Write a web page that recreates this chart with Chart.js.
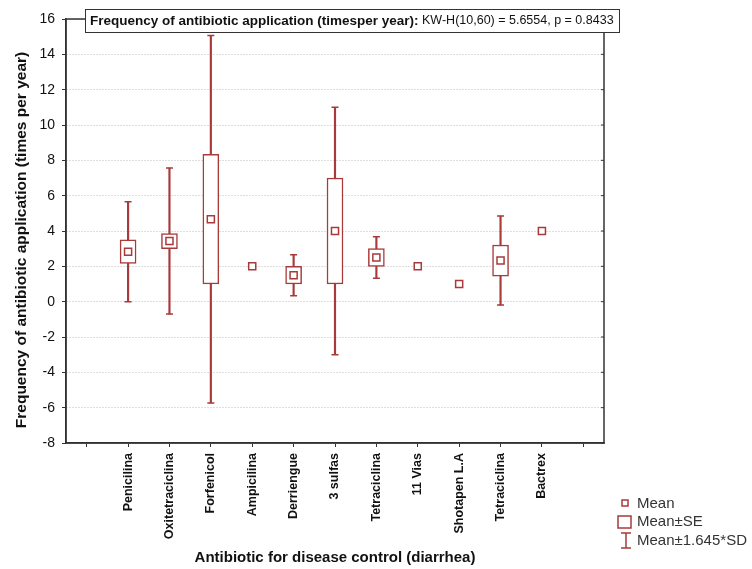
<!DOCTYPE html>
<html>
<head>
<meta charset="utf-8">
<script src="https://cdn.jsdelivr.net/npm/chart.js@4.4.1/dist/chart.umd.min.js"></script>
<style>
  body { margin: 0; background: #fff; }
  #wrap { width: 752px; height: 569px; }
</style>
</head>
<body>
<div id="wrap"><canvas id="myChart" width="752" height="569"></canvas></div>
<script>
// categories (empty slot at each end, like the original plot)
var drugs = ["Penicilina", "Oxitetraciclina", "Forfenicol", "Ampicilina", "Derriengue",
  "3 sulfas", "Tetraciclina", "11 Vias", "Shotapen L.A", "Tetraciclina", "Bactrex"];
// mean, standard error and 1.645*SD
var means = [2.83, 3.43, 4.67, 2.0, 1.5, 4.0, 2.5, 2.0, 1.0, 2.33, 4.0];
var se = [0.67, 0.43, 3.67, null, 0.5, 3.0, 0.5, null, null, 0.88, null];
var sd165 = [2.83, 4.13, 10.4, null, 1.16, 7.0, 1.17, null, null, 2.52, null];
var yTicks = [-8, -6, -4, -2, 0, 2, 4, 6, 8, 10, 12, 14, 16];

var red = "#a83a3a";
var fontFam = "'Liberation Sans', Arial, sans-serif";

var labels = [""].concat(drugs, [""]);
function pad(arr) { return [null].concat(arr, [null]); }

var seBox = pad(means.map(function (m, i) {
  return se[i] == null ? null : [m - se[i], m + se[i]];
}));
var whisker = pad(means.map(function (m, i) {
  return sd165[i] == null ? null : [m - sd165[i], m + sd165[i]];
}));
var capHi = pad(means.map(function (m, i) { return sd165[i] == null ? null : m + sd165[i]; }));
var capLo = pad(means.map(function (m, i) { return sd165[i] == null ? null : m - sd165[i]; }));
var meanPts = pad(means);

var decor = {
  id: "decor",
  afterDraw: function (chart) {
    var c = chart.ctx, a = chart.chartArea;
    c.save();
    // frame around plot
    c.strokeStyle = "#333";
    c.lineWidth = 1.5;
    c.strokeRect(a.left, a.top, a.right - a.left, a.bottom - a.top);
    // small inner ticks on right side
    c.lineWidth = 1;
    yTicks.forEach(function (v) {
      var py = chart.scales.y.getPixelForValue(v);
      c.beginPath(); c.moveTo(a.right - 3, py); c.lineTo(a.right, py); c.stroke();
    });

    // header box
    c.fillStyle = "#fff";
    c.fillRect(85, 9, 534, 23);
    c.strokeStyle = "#333";
    c.lineWidth = 1;
    c.strokeRect(85.5, 9.5, 534, 23);
    c.fillStyle = "#111";
    c.textBaseline = "middle";
    c.textAlign = "left";
    c.font = "bold 13.5px " + fontFam;
    var t1 = "Frequency of antibiotic application (timesper year):";
    c.fillText(t1, 90, 21);
    var w1 = c.measureText(t1).width;
    c.font = "12.5px " + fontFam;
    c.fillText(" KW-H(10,60) = 5.6554, p = 0.8433", 90 + w1, 21);

    // y axis title, drawn a little below centre as in the original
    c.save();
    c.translate(22, 240);
    c.rotate(-Math.PI / 2);
    c.textAlign = "center";
    c.font = "bold 15.5px " + fontFam;
    c.fillText("Frequency of antibiotic application (times per year)", 0, 0);
    c.restore();

    // legend
    c.strokeStyle = red;
    c.lineWidth = 1.5;
    c.strokeRect(622, 500, 6, 6);
    c.strokeRect(618, 516, 13, 12);
    c.beginPath();
    c.moveTo(626, 533); c.lineTo(626, 548);
    c.moveTo(621, 533); c.lineTo(631, 533);
    c.moveTo(621, 548); c.lineTo(631, 548);
    c.stroke();
    c.fillStyle = "#333";
    c.font = "15px " + fontFam;
    c.fillText("Mean", 637, 504);
    c.fillText("Mean\u00b1SE", 637, 522);
    c.fillText("Mean\u00b11.645*SD", 637, 541);
    c.restore();
  }
};

var ctx = document.getElementById("myChart").getContext("2d");
var myChart = new Chart(ctx, {
  type: "bar",
  data: {
    labels: labels,
    datasets: [
      {
        type: "line",
        label: "Mean",
        data: meanPts,
        showLine: false,
        pointStyle: "rect",
        pointRadius: 5,
        pointBackgroundColor: "#fff",
        pointBorderColor: red,
        pointBorderWidth: 1.5,
        order: 0
      },
      {
        label: "Mean\u00b1SE",
        data: seBox,
        backgroundColor: "#fff",
        borderColor: red,
        borderWidth: 1.5,
        borderSkipped: false,
        barThickness: 16,
        grouped: false,
        order: 1
      },
      {
        type: "line",
        label: "capHi",
        data: capHi,
        showLine: false,
        pointStyle: "line",
        pointRadius: 3.5,
        pointBorderColor: red,
        pointBorderWidth: 1.5,
        order: 2
      },
      {
        type: "line",
        label: "capLo",
        data: capLo,
        showLine: false,
        pointStyle: "line",
        pointRadius: 3.5,
        pointBorderColor: red,
        pointBorderWidth: 1.5,
        order: 2
      },
      {
        label: "Mean\u00b11.645*SD",
        data: whisker,
        backgroundColor: red,
        borderWidth: 0,
        barThickness: 1.5,
        grouped: false,
        order: 3
      }
    ]
  },
  options: {
    responsive: false,
    animation: false,
    layout: { padding: { left: 0, right: 148, top: 19, bottom: 0 } },
    plugins: {
      legend: { display: false },
      tooltip: { enabled: false }
    },
    scales: {
      x: {
        offset: true,
        grid: { display: true, offset: false, drawOnChartArea: false, tickLength: 4, color: "#333" },
        border: { color: "#333", width: 1.5 },
        ticks: {
          autoSkip: false,
          maxRotation: 90,
          minRotation: 90,
          padding: 6,
          color: "#111",
          font: { family: fontFam, size: 12.5, weight: "bold" }
        },
        title: {
          display: true,
          text: "Antibiotic for disease control (diarrhea)",
          color: "#111",
          font: { family: fontFam, size: 15, weight: "bold" },
          padding: { top: 2, bottom: 2 }
        },
        afterFit: function (scale) { scale.height = 126; }
      },
      y: {
        min: -8,
        max: 16,
        afterBuildTicks: function (scale) {
          scale.ticks = yTicks.map(function (v) { return { value: v }; });
        },
        grid: { color: "#bdbdbd", tickLength: 4, tickColor: "#333" },
        border: { color: "#333", width: 1.5, dash: [1, 2] },
        ticks: {
          padding: 7,
          color: "#111",
          font: { family: fontFam, size: 14 }
        },
        afterFit: function (scale) { scale.width = 66; }
      }
    }
  },
  plugins: [decor]
});
</script>
</body>
</html>
